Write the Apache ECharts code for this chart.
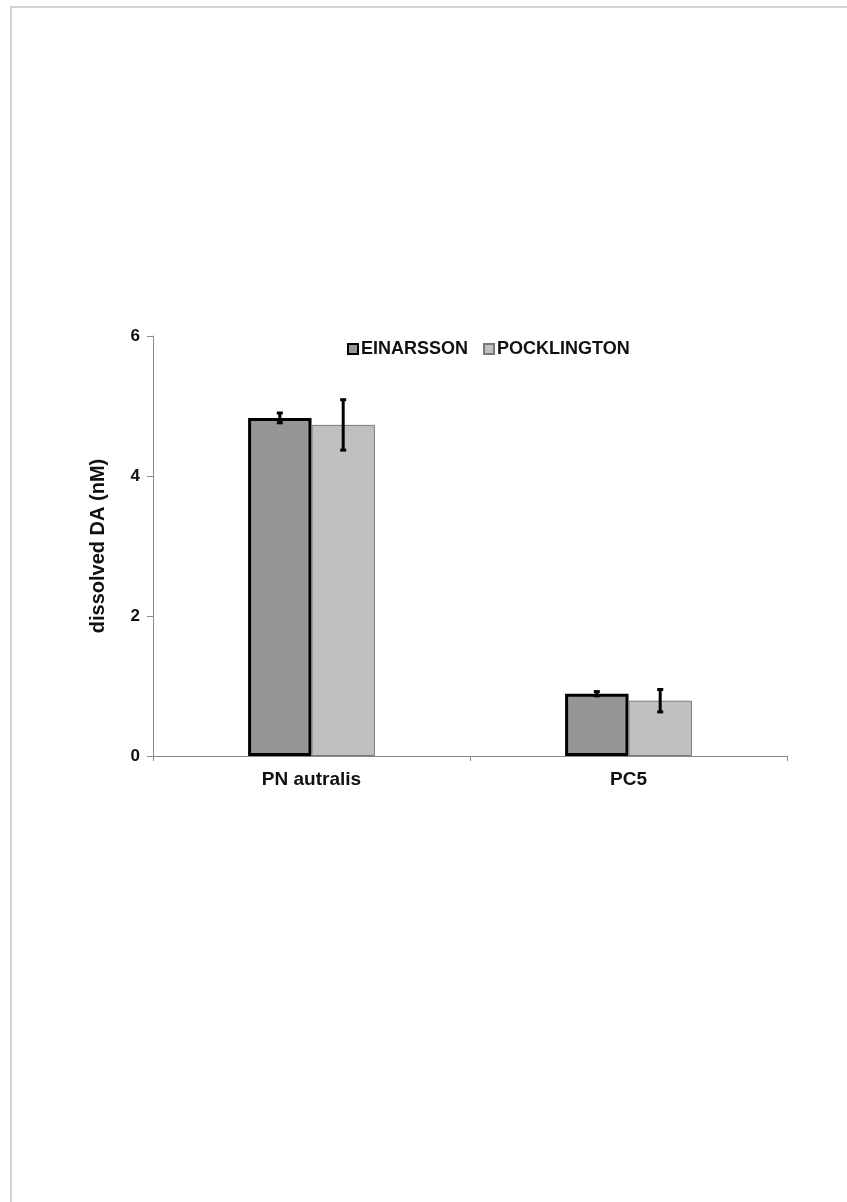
<!DOCTYPE html>
<html>
<head>
<meta charset="utf-8">
<script src="https://cdn.jsdelivr.net/npm/echarts@6/dist/echarts.min.js"></script>
<style>
  body { margin: 0; background: #fff; }
  .page { position: relative; width: 847px; height: 1202px; }
  .frame {
    position: absolute; left: 10px; top: 6px; right: 0; bottom: 0;
    border-top: 2px solid #d4d4d4; border-left: 2px solid #d4d4d4;
  }
  .chart { position: absolute; left: 0; top: 0; width: 847px; height: 1202px; }
</style>
</head>
<body>
<div class="page">
  <div class="frame"></div>
  <div class="chart" id="chart"></div>
</div>
<script>
  // data
  var categories = ['PN autralis', 'PC5'];
  var seriesNames = ['EINARSSON', 'POCKLINGTON'];
  var einarsson = [4.83, 0.89];
  var einarssonErr = [0.07, 0.03];
  var pocklington = [4.73, 0.79];
  var pocklingtonErr = [0.36, 0.16];
  var yTicks = [0, 6, 2]; // min, max, interval

  var font = 'Arial, "Liberation Sans", sans-serif';
  var barFrac = 0.2;

  function errData(means, errs) {
    return means.map(function (m, i) { return [i, m - errs[i], m + errs[i]]; });
  }

  // error bar drawn by offsetting from category center by half a bar
  function errRender(side) {
    return function (params, api) {
      var band = api.size([1, 0])[0];
      var off = side * band * barFrac / 2;
      var lo = api.coord([api.value(0), api.value(1)]);
      var hi = api.coord([api.value(0), api.value(2)]);
      var x = lo[0] + off;
      var cap = 3;
      var st = { stroke: '#000', lineWidth: 3 };
      return {
        type: 'group',
        children: [
          { type: 'line', shape: { x1: x, y1: lo[1], x2: x, y2: hi[1] }, style: st },
          { type: 'line', shape: { x1: x - cap, y1: lo[1], x2: x + cap, y2: lo[1] }, style: st },
          { type: 'line', shape: { x1: x - cap, y1: hi[1], x2: x + cap, y2: hi[1] }, style: st }
        ]
      };
    };
  }

  var myChart = echarts.init(document.getElementById('chart'));
  var option = {
    animation: false,
    textStyle: { fontFamily: font },
    grid: { left: 153, right: 60, top: 336, bottom: 446 },
    legend: {
      data: seriesNames,
      left: 342,
      top: 335,
      itemWidth: 10,
      itemHeight: 10,
      itemGap: 15,
      icon: 'rect',
      textStyle: { fontFamily: font, fontSize: 18, fontWeight: 'bold', color: '#111', padding: [0, 0, 0, -2] }
    },
    xAxis: {
      type: 'category',
      data: categories,
      axisLine: { lineStyle: { color: '#888', width: 1 } },
      axisTick: { show: true, length: 5, lineStyle: { color: '#888' } },
      axisLabel: { fontFamily: font, fontSize: 19, fontWeight: 'bold', color: '#111', margin: 14 }
    },
    yAxis: {
      type: 'value',
      min: yTicks[0],
      max: yTicks[1],
      interval: yTicks[2],
      name: 'dissolved DA (nM)',
      nameLocation: 'middle',
      nameGap: 45,
      nameTextStyle: { fontFamily: font, fontSize: 20, fontWeight: 'bold', color: '#111' },
      splitLine: { show: false },
      axisLine: { show: true, lineStyle: { color: '#888', width: 1 } },
      axisTick: { show: true, length: 6, lineStyle: { color: '#888' } },
      axisLabel: { fontFamily: font, fontSize: 17, fontWeight: 'bold', color: '#111', margin: 13 }
    },
    series: [
      {
        name: seriesNames[0],
        type: 'bar',
        barWidth: '20%',
        barGap: '0%',
        data: einarsson,
        itemStyle: { color: '#969696', borderColor: '#000', borderWidth: 3 }
      },
      {
        name: seriesNames[1],
        type: 'bar',
        barWidth: '20%',
        barGap: '0%',
        data: pocklington,
        itemStyle: { color: '#c0c0c0', borderColor: '#7a7a7a', borderWidth: 1 }
      },
      {
        type: 'custom',
        renderItem: errRender(-1),
        data: errData(einarsson, einarssonErr),
        z: 10
      },
      {
        type: 'custom',
        renderItem: errRender(1),
        data: errData(pocklington, pocklingtonErr),
        z: 10
      }
    ]
  };
  myChart.setOption(option);
</script>
</body>
</html>
